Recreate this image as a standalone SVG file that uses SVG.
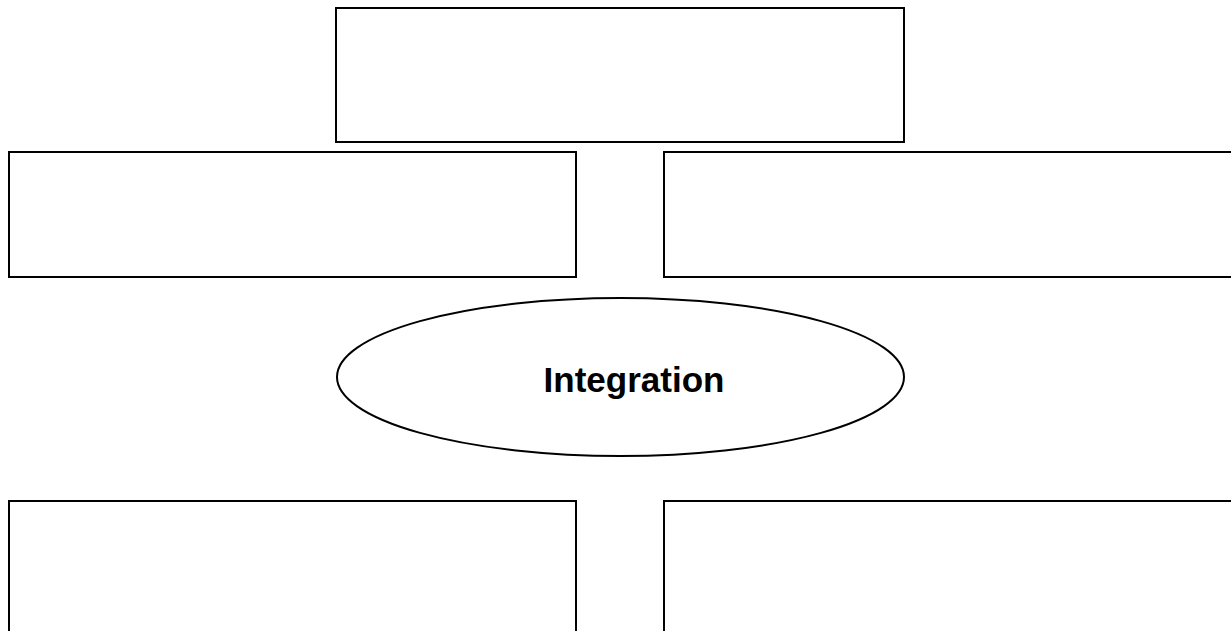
<svg xmlns="http://www.w3.org/2000/svg" width="1231" height="631" viewBox="0 0 1231 631">
<style>
.box{fill:#fff;stroke:#000;stroke-width:2}
.lbl{font-family:"Liberation Sans",Arial,sans-serif;font-weight:bold;font-size:35px;fill:#000}
</style>
<rect width="1231" height="631" fill="#fff"/>
<g id="top"><rect class="box" x="336" y="8" width="568" height="134"/></g>
<g id="midLeft"><rect class="box" x="9" y="152" width="567" height="125"/></g>
<g id="midRight"><rect class="box" x="664" y="152" width="580" height="125"/></g>
<g id="integration">
<ellipse class="box" cx="620.5" cy="377" rx="283.5" ry="79"/>
<text class="lbl" x="634" y="392" text-anchor="middle">Integration</text>
</g>
<g id="botLeft"><rect class="box" x="9" y="501" width="567" height="150"/></g>
<g id="botRight"><rect class="box" x="664" y="501" width="580" height="150"/></g>
<g id="connectors"></g>
</svg>
